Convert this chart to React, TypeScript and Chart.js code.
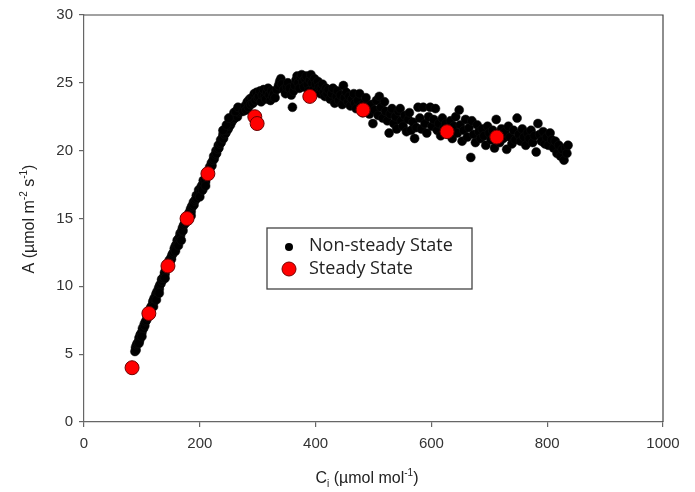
import React, { useEffect, useRef } from "react";
import { Chart, registerables } from "chart.js";

Chart.register(...registerables);

const xTicks = [0, 200, 400, 600, 800, 1000];
const yTicks = [0, 5, 10, 15, 20, 25, 30];

// Steady state measurements (Ci, A)
const steadyCi = [83, 112, 145, 178, 214, 295, 299, 390, 482, 627, 713];
const steadyA = [4.0, 8.0, 11.5, 15.0, 18.3, 22.5, 22.0, 24.0, 23.0, 21.4, 21.0];

// Non-steady state measurements (Ci, A)
const nonSteadyRise: number[][] = [
  [88, 5.2], [89, 5.5], [90, 5.3], [91, 5.7], [92, 5.8], [94, 5.9], [95, 6.2], [96, 6.0], [97, 6.4], [98, 6.5],
  [100, 6.6], [101, 6.9], [103, 6.9], [104, 7.2], [105, 7.1], [106, 7.4], [108, 7.5], [109, 7.8], [110, 7.7], [111, 8.0],
  [113, 8.2], [114, 8.0], [115, 8.4], [116, 8.5], [118, 8.6], [119, 8.9], [120, 8.8], [121, 9.1], [123, 9.1], [124, 9.4],
  [125, 9.3], [126, 9.6], [128, 9.6], [129, 9.9], [130, 9.8], [131, 10.1], [133, 10.2], [134, 10.5], [135, 10.4], [136, 10.6],
  [138, 10.7], [139, 11.0], [140, 10.9], [141, 11.2], [143, 11.3], [144, 11.6], [146, 11.6], [147, 11.9], [148, 11.8], [150, 12.1],
  [151, 12.0], [152, 12.3], [153, 12.4], [155, 12.5], [156, 12.8], [157, 12.7], [158, 13.0], [160, 13.1], [161, 13.4], [162, 13.2],
  [163, 13.5], [165, 13.6], [166, 13.9], [167, 13.8], [169, 14.1], [170, 14.3], [171, 14.1], [172, 14.5], [174, 14.6], [175, 14.9],
  [176, 14.7], [177, 15.0], [179, 15.2], [180, 15.0], [181, 15.4], [183, 15.5], [184, 15.7], [185, 15.5], [186, 15.9], [188, 15.9],
  [189, 16.2], [190, 16.0], [191, 16.3], [193, 16.4], [194, 16.7], [195, 16.5], [197, 16.8], [198, 17.1], [199, 16.9], [201, 17.2],
  [202, 17.0], [203, 17.4], [205, 17.5], [206, 17.8], [207, 17.6], [209, 17.9], [210, 17.7], [211, 18.1], [213, 18.1], [215, 18.5],
  [216, 18.4], [217, 18.8], [219, 18.8], [220, 19.1], [221, 18.9], [223, 19.3], [224, 19.6], [225, 19.4], [227, 19.7], [228, 20.0],
  [229, 19.8], [231, 20.1], [232, 20.4], [233, 20.2], [235, 20.5], [236, 20.8], [237, 20.6], [239, 20.9], [240, 21.2], [241, 20.9],
  [243, 21.2], [244, 21.5], [245, 21.3], [247, 21.5], [248, 21.8], [249, 21.6], [251, 21.8], [252, 22.1], [253, 21.9], [255, 22.1],
  [256, 22.5], [258, 22.3], [259, 22.8], [260, 22.4], [262, 22.6], [264, 22.9], [265, 22.5], [268, 22.8], [270, 23.1], [272, 22.9],
  // points lying off the main band
  [95, 5.8], [100, 6.3], [120, 8.5], [125, 9.0], [130, 9.5], [140, 10.6], [158, 12.6], [163, 13.0], [168, 13.4], [185, 15.2],
  [200, 16.6], [205, 17.1], [210, 17.4], [240, 21.5], [246, 21.9], [250, 22.4], [262, 22.9], [266, 23.2],
];

const nonSteadyPlateau: number[][] = [
  [275, 22.9], [278, 23.3], [280, 23.0], [282, 23.6], [284, 23.2], [286, 23.8], [288, 23.4], [290, 23.9], [292, 23.5], [294, 24.2],
  [296, 23.7], [298, 24.3], [300, 23.9], [302, 24.0], [304, 24.4], [306, 23.6], [308, 24.1], [310, 24.5], [312, 24.0], [314, 23.8],
  [316, 24.3], [318, 24.6], [320, 24.1], [322, 23.7], [324, 24.4], [326, 24.0], [328, 24.2], [330, 23.9], [333, 24.5], [336, 24.8],
  [338, 25.1], [340, 25.3], [342, 24.9], [345, 24.5], [348, 24.2], [350, 24.7], [352, 25.0], [355, 24.6], [358, 24.1], [360, 23.2],
  [362, 24.4], [364, 24.8], [366, 25.2], [368, 25.5], [370, 25.0], [372, 24.6], [374, 25.4], [376, 25.6], [378, 25.1], [380, 24.7],
  [382, 25.3], [384, 25.5], [386, 24.9], [388, 24.4], [390, 25.2], [392, 25.6], [394, 25.0], [396, 24.5], [398, 25.3], [400, 24.9],
  [402, 24.4], [404, 25.1], [406, 24.7], [408, 24.2], [410, 24.6], [412, 24.9], [414, 24.3], [416, 24.0], [418, 24.6], [420, 24.2],
];

const nonSteadyDecline: number[][] = [
  [422, 24.5], [425, 23.8], [428, 24.2], [430, 24.6], [433, 23.5], [436, 24.0], [438, 24.4], [440, 23.7], [443, 24.1], [446, 23.4],
  [448, 24.8], [450, 23.9], [453, 24.3], [456, 23.6], [458, 24.0], [460, 23.3], [463, 23.8], [466, 24.2], [468, 23.5], [470, 23.1],
  [473, 23.7], [476, 24.2], [478, 23.3], [481, 22.8], [484, 23.5], [487, 23.9], [490, 23.2], [493, 22.7], [496, 23.4], [499, 22.0],
  [502, 23.0], [505, 23.7], [508, 22.6], [510, 24.0], [513, 23.2], [516, 22.4], [519, 23.6], [521, 22.9], [524, 22.2], [527, 21.3],
  [529, 22.7], [532, 23.1], [535, 22.0], [538, 22.5], [540, 21.6], [543, 22.9], [546, 23.1], [548, 22.2], [551, 21.8], [554, 22.6],
  [557, 21.4], [560, 22.3], [562, 22.8], [565, 21.5], [568, 22.1], [571, 20.9], [574, 21.7], [577, 23.2], [580, 22.4], [583, 21.6],
  [586, 23.2], [589, 22.0], [592, 21.3], [595, 22.5], [598, 23.2], [601, 21.8], [604, 22.3], [607, 23.1], [610, 21.5], [613, 22.0],
  [616, 21.1], [619, 22.4], [622, 21.7], [625, 22.0], [630, 21.4], [633, 22.2], [636, 20.9], [639, 21.8], [642, 22.5], [645, 21.3],
  [648, 23.0], [650, 21.9], [653, 20.7], [656, 21.5], [659, 22.3], [662, 21.0], [665, 21.7], [668, 19.5], [670, 22.2], [673, 21.2],
  [676, 20.6], [679, 21.9], [682, 21.4], [685, 20.9], [688, 21.6], [691, 21.1], [694, 20.4], [697, 21.8], [700, 21.3], [703, 20.8],
  [706, 21.5], [709, 20.2], [712, 22.3], [715, 21.1], [718, 20.6], [721, 21.6], [724, 20.9], [727, 21.4], [730, 20.1], [733, 21.8],
  [736, 21.0], [739, 20.5], [742, 21.5], [745, 20.8], [748, 22.4], [751, 21.2], [754, 20.7], [757, 21.6], [760, 21.0], [763, 20.4],
  [766, 21.3], [769, 20.9], [772, 21.5], [775, 20.6], [778, 21.1], [781, 19.9], [784, 22.0], [787, 21.2], [790, 20.7], [793, 21.4],
  [796, 20.5], [799, 21.0], [802, 20.4], [805, 21.3], [808, 20.8], [811, 20.2], [814, 20.7], [817, 19.8], [820, 20.4], [823, 19.6],
  [826, 20.1], [829, 19.3], [832, 20.2], [834, 19.8], [836, 20.4],
];

const legendLabels = ["Non-steady State", "Steady State"];

type Seg = { t: string; sup?: boolean; sub?: boolean };

const FONT = "Liberation Sans, Arial, sans-serif";

function drawRich(ctx: CanvasRenderingContext2D, segs: Seg[], cx: number, cy: number, size: number, rotate: boolean) {
  ctx.save();
  ctx.translate(cx, cy);
  if (rotate) ctx.rotate(-Math.PI / 2);
  const small = Math.round(size * 0.62);
  let total = 0;
  for (const s of segs) {
    ctx.font = `${s.sup || s.sub ? small : size}px ${FONT}`;
    total += ctx.measureText(s.t).width;
  }
  let x = -total / 2;
  ctx.textBaseline = "middle";
  ctx.textAlign = "left";
  ctx.fillStyle = "#222";
  for (const s of segs) {
    const sz = s.sup || s.sub ? small : size;
    ctx.font = `${sz}px ${FONT}`;
    const dy = s.sup ? -size * 0.38 : s.sub ? size * 0.3 : 0;
    ctx.fillText(s.t, x, dy);
    x += ctx.measureText(s.t).width;
  }
  ctx.restore();
}

const decorPlugin = {
  id: "decor",
  afterDraw(chart: any) {
    const { ctx, chartArea } = chart;
    const { left, right, top, bottom } = chartArea;
    ctx.save();
    // frame top & right
    ctx.strokeStyle = "#444";
    ctx.lineWidth = 1.2;
    ctx.beginPath();
    ctx.moveTo(left, top);
    ctx.lineTo(right, top);
    ctx.lineTo(right, bottom);
    ctx.stroke();

    // legend box
    const bx = 267, by = 228, bw = 205, bh = 61;
    ctx.fillStyle = "#fff";
    ctx.fillRect(bx, by, bw, bh);
    ctx.strokeStyle = "#444";
    ctx.lineWidth = 1.3;
    ctx.strokeRect(bx, by, bw, bh);
    ctx.beginPath();
    ctx.arc(bx + 22, by + 19, 4, 0, Math.PI * 2);
    ctx.fillStyle = "#000";
    ctx.fill();
    ctx.beginPath();
    ctx.arc(bx + 22, by + 41, 7, 0, Math.PI * 2);
    ctx.fillStyle = "#ff0000";
    ctx.fill();
    ctx.strokeStyle = "#700";
    ctx.lineWidth = 1;
    ctx.stroke();
    ctx.fillStyle = "#222";
    ctx.font = "18px 'Open Sans', 'Noto Sans', sans-serif";
    ctx.textBaseline = "middle";
    ctx.textAlign = "left";
    ctx.fillText(legendLabels[0], bx + 42, by + 18);
    ctx.fillText(legendLabels[1], bx + 42, by + 41);

    // axis titles
    drawRich(ctx, [{ t: "A (µmol m" }, { t: "-2", sup: true }, { t: " s" }, { t: "-1", sup: true }, { t: ")" }], 30, 219, 16, true);
    drawRich(ctx, [{ t: "C" }, { t: "i", sub: true }, { t: " (µmol mol" }, { t: "-1", sup: true }, { t: ")" }], 367, 479, 16, false);
    ctx.restore();
  },
};

export default function App() {
  const ref = useRef<HTMLCanvasElement>(null);
  useEffect(() => {
    const nonSteady = [...nonSteadyRise, ...nonSteadyPlateau, ...nonSteadyDecline].map(([x, y]) => ({ x, y }));
    const steady = steadyCi.map((x, i) => ({ x, y: steadyA[i] }));
    const chart = new Chart(ref.current as HTMLCanvasElement, {
      type: "scatter",
      data: {
        datasets: [
          {
            label: legendLabels[1],
            data: steady,
            pointRadius: 7,
            pointBackgroundColor: "#ff0000",
            pointBorderColor: "#6a0000",
            pointBorderWidth: 1,
            order: 0,
          },
          {
            label: legendLabels[0],
            data: nonSteady,
            pointRadius: 4.5,
            pointBackgroundColor: "#000",
            pointBorderColor: "#111",
            pointBorderWidth: 0.5,
            order: 1,
          },
        ],
      },
      options: {
        animation: false,
        responsive: false,
        layout: { padding: { top: 15, right: 32, left: 0, bottom: 0 } },
        plugins: { legend: { display: false }, tooltip: { enabled: false } },
        scales: {
          x: {
            type: "linear",
            min: 0,
            max: 1000,
            afterBuildTicks: (s: any) => { s.ticks = xTicks.map((v) => ({ value: v })); },
            afterFit: (s: any) => { s.height = 70; },
            ticks: { color: "#333", font: { size: 15, family: FONT }, padding: 8, callback: (v: any) => String(v) },
            grid: { drawOnChartArea: false, drawTicks: true, tickLength: 5, color: "#666", lineWidth: 1.2 },
            border: { display: true, color: "#666", width: 1.2 },
          },
          y: {
            type: "linear",
            min: 0,
            max: 30,
            afterBuildTicks: (s: any) => { s.ticks = yTicks.map((v) => ({ value: v })); },
            afterFit: (s: any) => { s.width = 84; },
            ticks: { color: "#333", font: { size: 15, family: FONT }, padding: 6, callback: (v: any) => String(v) },
            grid: { drawOnChartArea: false, drawTicks: true, tickLength: 5, color: "#666", lineWidth: 1.2 },
            border: { display: true, color: "#666", width: 1.2 },
          },
        },
      },
      plugins: [decorPlugin],
    });
    return () => chart.destroy();
  }, []);
  return (
    <div style={{ position: "fixed", left: 0, top: 0, width: 695, height: 492, background: "#fff" }}>
      <canvas ref={ref} width={695} height={492} style={{ width: 695, height: 492, display: "block" }} />
    </div>
  );
}
